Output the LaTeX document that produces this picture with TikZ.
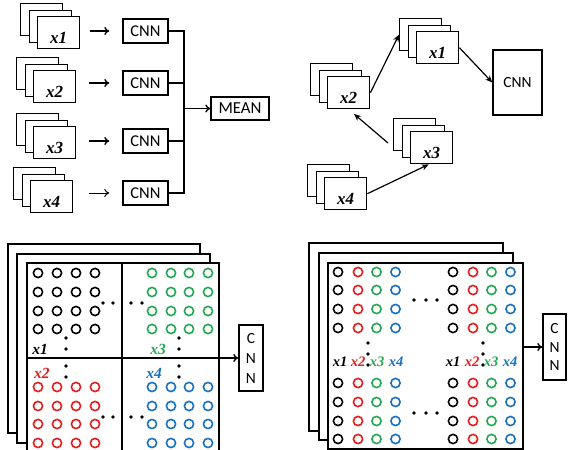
\documentclass[tikz,border=0pt]{standalone}
\usepackage{fontspec}
\setmainfont{Liberation Serif}
\newfontfamily\calfont{Carlito}
\usetikzlibrary{arrows.meta}
\definecolor{cred}{RGB}{228,28,28}
\definecolor{cgreen}{RGB}{34,168,80}
\definecolor{cblue}{RGB}{24,112,192}
\tikzset{
  fr/.style={draw, line width=1.4pt, fill=white, inner sep=0pt, minimum width=42pt, minimum height=32pt, anchor=north west},
  lab/.style={font=\bfseries\itshape\fontsize{17}{19}\selectfont, inner sep=0pt},
  slab/.style={font=\bfseries\itshape\fontsize{15.5}{17}\selectfont, inner sep=0pt},
  rlab/.style={font=\bfseries\itshape\fontsize{14.5}{16}\selectfont, inner sep=0pt},
  box/.style={draw, line width=1.4pt, fill=white, inner sep=0pt, font=\calfont\fontsize{16.5}{18}\selectfont},
  vbox/.style={draw, line width=1.4pt, fill=white, inner sep=0pt, align=center},
  panel/.style={draw, line width=1.5pt, fill=white, inner sep=0pt, anchor=north west},
  arr/.style={line width=1.4pt, -{To[length=5pt,width=8pt]}},
  sarr/.style={line width=1.2pt, -{Stealth[length=7pt,width=6pt]}},
  ring/.style={line width=1.6pt},
}
\newcommand{\fstack}[4]{%
  \node[fr] (#1a) at (#2,#3) {};
  \node[fr] (#1b) at (#2+8.5,#3+6.5) {};
  \node[fr] (#1) at (#2+17,#3+13) {};
  \node[lab] (#1t) at ([yshift=-5pt]#1.center) {#4};
}
\begin{document}
\begin{tikzpicture}[x=1pt,y=-1pt]
\useasboundingbox (0,0) rectangle (571,450);
\clip (0,0) rectangle (571,450);
% ---------- top left ----------
\fstack{tla}{20}{3}{x1}
\fstack{tlb}{16}{57}{x2}
\fstack{tlc}{16}{113}{x3}
\fstack{tld}{13}{167}{x4}
\node[box, minimum width=45pt, minimum height=24pt] (c1) at (145.5,31) {CNN};
\node[box, minimum width=45pt, minimum height=24pt] (c2) at (145.5,83) {CNN};
\node[box, minimum width=45pt, minimum height=24pt] (c3) at (145.5,141) {CNN};
\node[box, minimum width=45pt, minimum height=24pt] (c4) at (145.5,193) {CNN};
\node[box, minimum width=58pt, minimum height=23pt, font=\calfont\fontsize{16.8}{18}\selectfont] (mean) at (240,108.5) {MEAN};
\draw[arr, shorten <=10pt, shorten >=13pt] (tla.east |- c1.west) -- (c1.west);
\draw[arr, shorten <=13pt, shorten >=13pt] (tlb.east |- c2.west) -- (c2.west);
\draw[arr, shorten <=13pt, shorten >=13pt] (tlc.east |- c3.west) -- (c3.west);
\draw[arr, line width=1pt, shorten <=16pt, shorten >=13pt] (tld.east |- c4.west) -- (c4.west);
\coordinate (bus) at (184,108.5);
\draw[line width=1.4pt] (c1.east) -| (bus);
\draw[line width=1.4pt] (c2.east) -| (bus);
\draw[line width=1.4pt] (c3.east) -| (bus);
\draw[line width=1.4pt] (c4.east) -| (bus);
\draw[arr] (bus) -- (mean.west);
% ---------- top right ----------
\fstack{tra}{399}{18}{x1}
\fstack{trb}{310}{63}{x2}
\fstack{trc}{393}{118}{x3}
\fstack{trd}{307}{164}{x4}
\node[box, minimum width=49pt, minimum height=65pt, font=\calfont\fontsize{15.5}{18}\selectfont] (cr) at (517.5,82.5) {CNN};
\draw[sarr] (trb.east) -- (traa.west);
\draw[sarr] (tra.east) -- (cr.west);
\coordinate (t3s) at (388,143);
\draw[sarr, shorten >=7pt] (t3s) -- (trb.south);
\draw[sarr] (trd.east) -- ([xshift=-3pt]trc.south);
% ---------- bottom left ----------
\node[panel, minimum width=192pt, minimum height=189pt] (bla) at (7,243) {};
\node[panel, minimum width=193pt, minimum height=189pt] (blb) at (16,253) {};
\node[panel, minimum width=192pt, minimum height=193pt] (bl) at (26,262) {};
\draw[line width=1.5pt] (122,262) -- (122,460);
\node[vbox, minimum width=24pt, minimum height=66pt, font=\calfont\fontsize{15.5}{20}\selectfont] (blcnn) at (251,358) {C\\N\\N};
\draw[arr] (bl.west |- blcnn.west) -- (blcnn.west);
\foreach \x in {38,57,76,95} {
  \foreach \y in {273,292,311,329} {\draw[ring] (\x,\y) circle (4.6pt);}
  \foreach \y in {387,406,424,443} {\draw[ring, cred] (\x,\y) circle (4.6pt);}
}
\foreach \x in {152,171,189,208} {
  \foreach \y in {273,292,311,329} {\draw[ring, cgreen] (\x,\y) circle (4.6pt);}
  \foreach \y in {387,406,424,443} {\draw[ring, cblue] (\x,\y) circle (4.6pt);}
}
\foreach \x in {103,113,131,142} {
  \fill (\x,303) circle (1.9pt);
  \fill (\x,417) circle (1.9pt);
}
\foreach \x in {66,179} {
  \foreach \y in {338,349,366,377} {\fill (\x,\y) circle (1.9pt);}
}
\node[slab] (l1) at (40,349) {x1};
\node[slab, text=cgreen] (l3) at (158,349) {x3};
\node[slab, text=cred] (l2) at (42,373) {x2};
\node[slab, text=cblue] (l4) at (154,373) {x4};
% ---------- bottom right ----------
\node[panel, minimum width=194pt, minimum height=188pt] (bra) at (308,242) {};
\node[panel, minimum width=194pt, minimum height=187pt] (brb) at (318,252) {};
\node[panel, minimum width=195pt, minimum height=186pt] (br) at (327,262) {};
\node[vbox, minimum width=23pt, minimum height=66pt, font=\calfont\fontsize{15.5}{18.5}\selectfont] (brcnn) at (554.5,347) {C\\N\\N};
\draw[arr] (br.east |- brcnn.west) -- (brcnn.west);
\foreach \xa in {338,453} {
  \foreach \y in {272,290,309,328,383,402,421,439} {
    \draw[ring] (\xa,\y) circle (4.6pt);
    \draw[ring, cred] (\xa+20,\y) circle (4.6pt);
    \draw[ring, cgreen] (\xa+38.5,\y) circle (4.6pt);
    \draw[ring, cblue] (\xa+57.5,\y) circle (4.6pt);
  }
}
\foreach \x in {414,426,437} {
  \fill (\x,300) circle (1.9pt);
  \fill (\x,413) circle (1.9pt);
}
\foreach \x in {368,483} {
  \foreach \y in {343,354,365} {\fill (\x,\y) circle (1.9pt);}
}
\node[rlab] (r1) at (340,362) {x1};
\node[rlab, text=cred] (r2) at (358,362) {x2};
\node[rlab, text=cgreen] (r3) at (377,362) {x3};
\node[rlab, text=cblue] (r4) at (396,362) {x4};
\node[rlab] (s1) at (453,362) {x1};
\node[rlab, text=cred] (s2) at (472,362) {x2};
\node[rlab, text=cgreen] (s3) at (491,362) {x3};
\node[rlab, text=cblue] (s4) at (510,362) {x4};
\end{tikzpicture}
\end{document}
